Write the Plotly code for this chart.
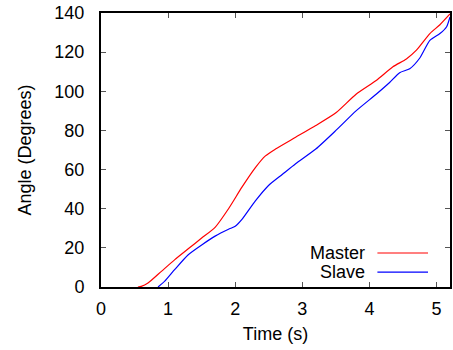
import plotly.graph_objects as go

# Data
master_t = [0.55, 0.6, 0.7, 0.9, 1.1, 1.3, 1.5, 1.7, 1.9, 2.1, 2.3, 2.45, 2.6, 2.9, 3.2, 3.5, 3.8, 4.1, 4.35, 4.55, 4.7, 4.9, 5.05, 5.2]
master_y = [0, 0.3, 2, 8, 14, 19.5, 25, 30.5, 40, 51, 61, 67, 70.5, 76.5, 82.5, 89, 98.5, 105.5, 112.5, 116.5, 121, 129.5, 134, 139.5]

slave_t = [0.85, 0.95, 1.1, 1.3, 1.5, 1.7, 1.9, 2.0, 2.1, 2.3, 2.5, 2.7, 2.9, 3.2, 3.5, 3.8, 4.1, 4.3, 4.45, 4.6, 4.75, 4.9, 5.05, 5.15, 5.2]
slave_y = [0, 3, 9, 16.5, 21.5, 26, 29.5, 31, 34.5, 44, 52, 57.5, 63, 70.5, 80, 90, 98.5, 104.5, 109.5, 111.5, 117, 126, 129.5, 133, 138]

x_ticks = [0, 1, 2, 3, 4, 5]
y_ticks = [0, 20, 40, 60, 80, 100, 120, 140]

FONT = "Liberation Sans, Arial, sans-serif"
FS = 18

fig = go.Figure()
fig.add_trace(go.Scatter(x=master_t, y=master_y, mode="lines", name="Master",
                         line=dict(color="#ff0000", width=1.2, shape="spline", smoothing=0.6)))
fig.add_trace(go.Scatter(x=slave_t, y=slave_y, mode="lines", name="Slave",
                         line=dict(color="#0000ff", width=1.2, shape="spline", smoothing=0.6)))

axis_common = dict(showgrid=False, zeroline=False, showline=True, linecolor="black", linewidth=2,
                   mirror="allticks", ticks="inside", ticklen=5, tickwidth=1, tickcolor="#555555",
                   tickfont=dict(family=FONT, size=FS, color="black"))

fig.update_xaxes(range=[0, 5.2], tickvals=x_ticks, ticklabelstandoff=4,
                 title=dict(text="Time (s)", font=dict(family=FONT, size=FS, color="black"), standoff=10),
                 **axis_common)
fig.update_yaxes(range=[0, 140], tickvals=y_ticks, ticklabelstandoff=11,
                 title=dict(text="Angle (Degrees)", font=dict(family=FONT, size=FS, color="black"), standoff=18),
                 **axis_common)

# gnuplot-style key: text right-aligned, sample line to its right
legend_rows = [("Master", "#ff0000", 0.124), ("Slave", "#0000ff", 0.054)]
for label, color, yp in legend_rows:
    fig.add_annotation(xref="paper", yref="paper", x=0.761, y=yp, text=label, showarrow=False,
                       xanchor="right", yanchor="middle",
                       font=dict(family=FONT, size=FS, color="black"))
    fig.add_shape(type="line", xref="paper", yref="paper", x0=0.792, x1=0.937, y0=yp, y1=yp,
                  line=dict(color=color, width=1.2))

fig.update_layout(width=453, height=350, margin=dict(l=101, r=1, t=13, b=63),
                  paper_bgcolor="white", plot_bgcolor="white", showlegend=False,
                  font=dict(family=FONT, size=FS, color="black"))

fig.write_html("out.html")
